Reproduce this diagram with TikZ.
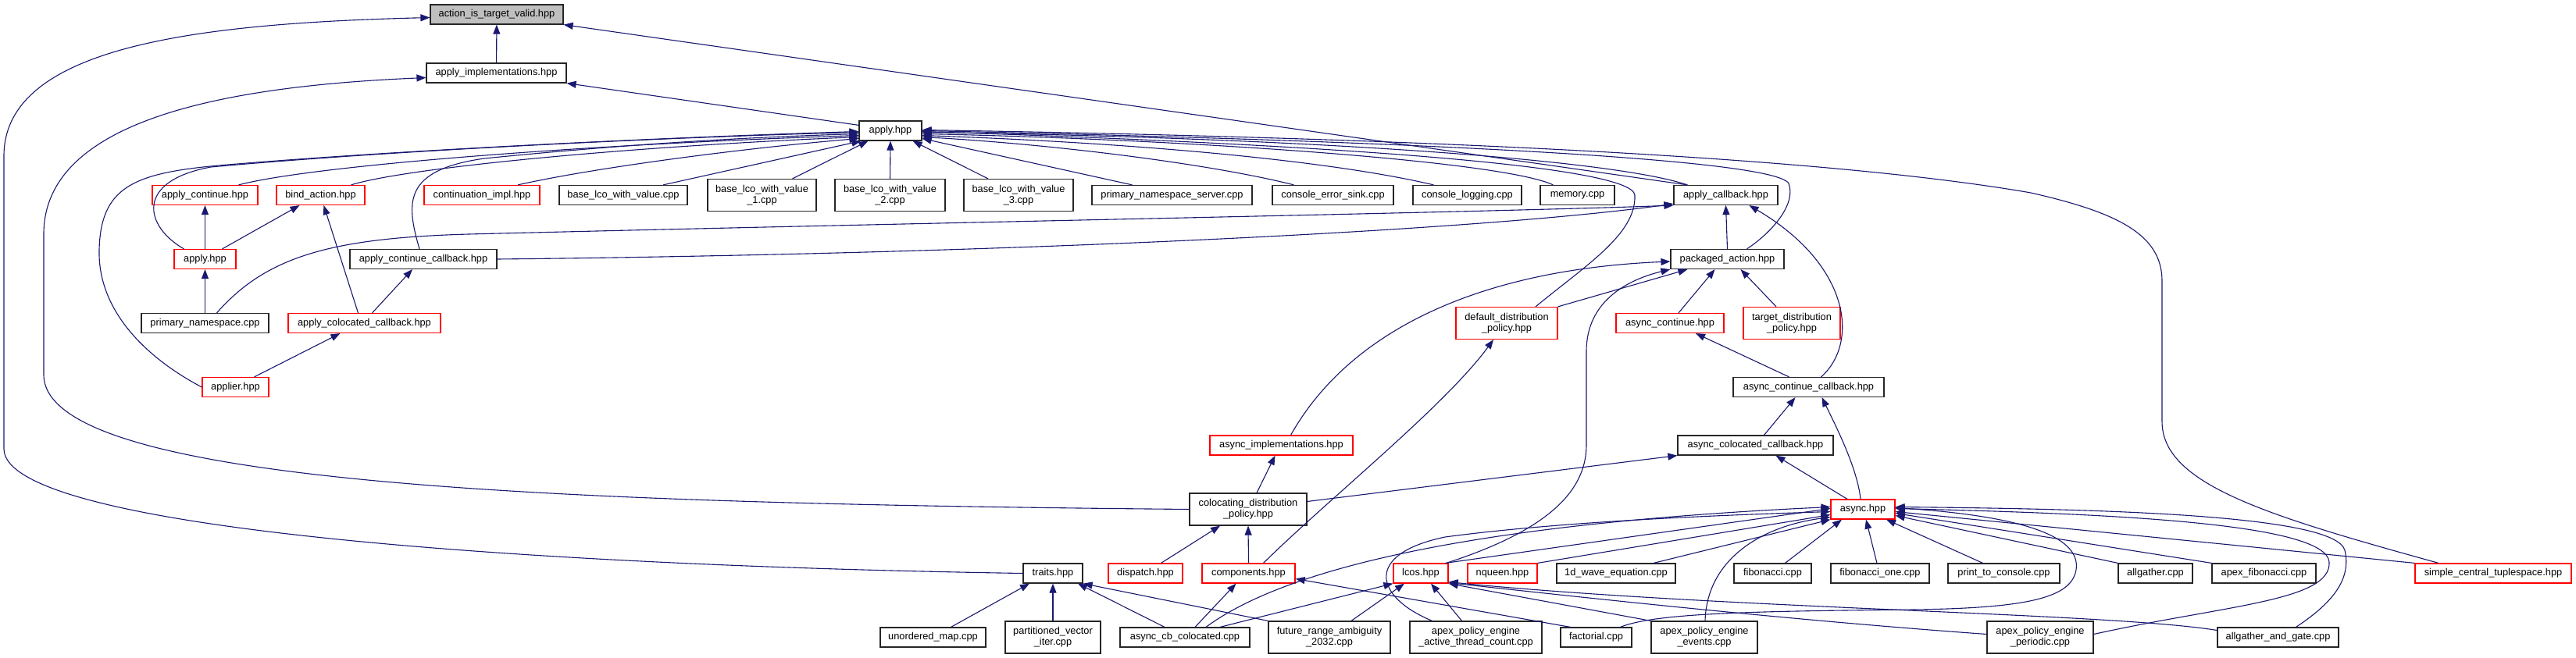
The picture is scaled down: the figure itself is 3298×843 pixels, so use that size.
\documentclass[tikz,border=0pt]{standalone}
\usepackage{fontspec}
\setmainfont{Liberation Sans}
\usetikzlibrary{arrows.meta}
\definecolor{edgec}{HTML}{191970}
\definecolor{boxred}{HTML}{FF0000}
\definecolor{boxgray}{HTML}{BFBFBF}
\tikzset{
  nb/.style={draw=black!85, line width=1.2pt, fill=white, inner xsep=9pt, inner ysep=0pt,
    minimum height=25pt, font=\fontsize{12.8}{14}\selectfont, align=center},
  nr/.style={nb, draw=boxred},
  two/.style={minimum height=41pt},
  w/.style={minimum width=#1pt},
  e/.style={draw=edgec, line width=1.1pt, -{Triangle[length=12pt,width=9pt]}},
}
\begin{document}
\begin{tikzpicture}[x=1pt,y=-1pt]
\fill[white] (0,0) rectangle (3298,843);
\useasboundingbox (0,0) rectangle (3298,843);
% nodes
\node[nb,w=170,fill=boxgray] (aitv) at (636,18.5) {action\_is\_target\_valid.hpp};
\node[nb,w=179] (aimpl) at (635.5,93.5) {apply\_implementations.hpp};
\node[nb,w=80] (applyh) at (1140,167.5) {apply.hpp};
\node[nr,w=135] (acont) at (262.5,250) {apply\_continue.hpp};
\node[nr,w=113] (bind) at (410.5,250) {bind\_action.hpp};
\node[nr,w=148] (contimpl) at (617,250) {continuation\_impl.hpp};
\node[nb,w=164] (blv) at (798,250) {base\_lco\_with\_value.cpp};
\node[nb,w=139,two] (blv1) at (975.5,250) {base\_lco\_with\_value\\\_1.cpp};
\node[nb,w=141,two] (blv2) at (1139.5,250) {base\_lco\_with\_value\\\_2.cpp};
\node[nb,w=140,two] (blv3) at (1304,250) {base\_lco\_with\_value\\\_3.cpp};
\node[nb,w=205] (pns) at (1500.5,250) {primary\_namespace\_server.cpp};
\node[nb,w=155] (ces) at (1706.5,250) {console\_error\_sink.cpp};
\node[nb,w=139] (clog) at (1878.5,250) {console\_logging.cpp};
\node[nb,w=95] (mem) at (2019.5,250) {memory.cpp};
\node[nb,w=133] (acb) at (2209.5,250) {apply\_callback.hpp};
\node[nr,w=79] (applyr) at (262.5,332) {apply.hpp};
\node[nb,w=188] (accb) at (542,332) {apply\_continue\_callback.hpp};
\node[nb,w=145] (pkg) at (2211.5,332) {packaged\_action.hpp};
\node[nb,w=163] (pn) at (262.5,414) {primary\_namespace.cpp};
\node[nr,w=195] (acolcb) at (466.5,414) {apply\_colocated\_callback.hpp};
\node[nr,w=130,two] (ddp) at (1929,414) {default\_distribution\\\_policy.hpp};
\node[nr,w=138] (acont2) at (2138,414) {async\_continue.hpp};
\node[nr,w=124,two] (tdp) at (2294,414) {target\_distribution\\\_policy.hpp};
\node[nr,w=85] (applier) at (301.5,496) {applier.hpp};
\node[nb,w=193] (asccb) at (2315.5,496) {async\_continue\_callback.hpp};
\node[nr,w=183] (aimpl2) at (1640.5,570.5) {async\_implementations.hpp};
\node[nb,w=199] (ascolcb) at (2247.5,570.5) {async\_colocated\_callback.hpp};
\node[nb,w=150,two] (cdp) at (1598,652.5) {colocating\_distribution\\\_policy.hpp};
\node[nr,w=82] (async) at (2385,652.5) {async.hpp};
\node[nb,w=76] (traits) at (1348,734.5) {traits.hpp};
\node[nr,w=95] (dispatch) at (1466.5,734.5) {dispatch.hpp};
\node[nr,w=119] (comps) at (1598.5,734.5) {components.hpp};
\node[nr,w=70] (lcos) at (1819,734.5) {lcos.hpp};
\node[nr,w=89] (nqueen) at (1923.5,734.5) {nqueen.hpp};
\node[nb,w=152] (wave) at (2069,734.5) {1d\_wave\_equation.cpp};
\node[nb,w=99] (fib) at (2269.5,734.5) {fibonacci.cpp};
\node[nb,w=126] (fib1) at (2407,734.5) {fibonacci\_one.cpp};
\node[nb,w=143] (ptc) at (2565.5,734.5) {print\_to\_console.cpp};
\node[nb,w=95] (allg) at (2759.5,734.5) {allgather.cpp};
\node[nb,w=133] (apexfib) at (2898.5,734.5) {apex\_fibonacci.cpp};
\node[nr,w=200] (sct) at (3192,734.5) {simple\_central\_tuplespace.hpp};
\node[nb,w=135] (umap) at (1194.5,816.5) {unordered\_map.cpp};
\node[nb,w=122,two] (pvi) at (1348,816.5) {partitioned\_vector\\\_iter.cpp};
\node[nb,w=166] (acbc) at (1517,816.5) {async\_cb\_colocated.cpp};
\node[nb,w=156,two] (fra) at (1702,816.5) {future\_range\_ambiguity\\\_2032.cpp};
\node[nb,w=169,two] (apeatc) at (1889.5,816.5) {apex\_policy\_engine\\\_active\_thread\_count.cpp};
\node[nb,w=91] (fact) at (2043.5,816.5) {factorial.cpp};
\node[nb,w=136,two] (apee) at (2182,816.5) {apex\_policy\_engine\\\_events.cpp};
\node[nb,w=136,two] (apep) at (2612,816.5) {apex\_policy\_engine\\\_periodic.cpp};
\node[nb,w=155] (aag) at (2916.5,816.5) {allgather\_and\_gate.cpp};
% top edges
\draw[e] (aimpl) -- (aitv);
\draw[e] (traits.west) .. controls (700,725) and (5,680) .. (5,575) -- (5,200) .. controls (5,60) and (250,30) .. ([yshift=-4pt]aitv.west);
\draw[e] (cdp.west) .. controls (700,645) and (56,620) .. (56,480) -- (56,300) .. controls (56,150) and (300,110) .. ([yshift=-6pt]aimpl.west);
\draw[e] ([xshift=18pt]acb.north west) -- (aitv.south east);
\draw[e] ([yshift=-6pt]applyh.north west) -- (aimpl.south east);
% into apply.hpp from left
\draw[e] (applier.west) .. controls (190,460) and (125,400) .. (127,320) .. controls (129,240) and (170,222) .. (280,212) .. controls (500,193) and (850,176) .. ([yshift=-1pt]applyh.west);
\draw[e] ([xshift=-27pt]applyr.north) .. controls (185,290) and (172,232) .. (270,214) .. controls (500,193) and (850,176) .. ([yshift=-2pt]applyh.west);
\draw[e] ([xshift=-5pt]accb.north) .. controls (520,260) and (515,218) .. (620,203) .. controls (800,185) and (950,176) .. ([yshift=-4pt]applyh.west);
\draw[e] ([xshift=43pt]acont.north) .. controls (400,212) and (750,185) .. ([yshift=-6pt]applyh.west);
\draw[e] ([xshift=39pt]bind.north) .. controls (520,215) and (800,188) .. ([yshift=-8pt]applyh.west);
\draw[e] ([xshift=46pt]contimpl.north) .. controls (760,215) and (950,190) .. ([yshift=-10pt]applyh.west);
\draw[e] ([xshift=51pt]blv.north) -- ([xshift=3pt]applyh.south west);
\draw[e] ([xshift=39pt]blv1.north) -- ([xshift=12pt]applyh.south west);
\draw[e] (blv2.north) -- (applyh.south);
\draw[e] ([xshift=-39pt]blv3.north) -- ([xshift=-12pt]applyh.south east);
% into apply.hpp from right
\draw[e] ([xshift=-51pt]pns.north) -- ([yshift=-10pt]applyh.east);
\draw[e] ([xshift=-50pt]ces.north) .. controls (1550,210) and (1350,185) .. ([yshift=-8pt]applyh.east);
\draw[e] ([xshift=-43pt]clog.north) .. controls (1700,205) and (1450,183) .. ([yshift=-6pt]applyh.east);
\draw[e] ([xshift=-31pt]mem.north) .. controls (1920,205) and (1500,178) .. ([yshift=-4pt]applyh.east);
\draw[e] ([xshift=18pt]acb.north west) .. controls (2050,200) and (1600,175) .. ([yshift=-2pt]applyh.east);
\draw[e] ([xshift=37pt]ddp.north) .. controls (2030,340) and (2095,300) .. (2093,250) .. controls (2090,212) and (1700,185) .. ([yshift=-1pt]applyh.east);
\draw[e] ([xshift=25pt]pkg.north) .. controls (2268,298) and (2300,262) .. (2290,235) .. controls (2270,200) and (1700,178) .. (applyh.east);
\draw[e] ([xshift=-70pt]sct.north) .. controls (2900,660) and (2768,620) .. (2768,540) -- (2768,360) .. controls (2768,300) and (2710,272) .. (2600,247) .. controls (2300,195) and (1700,175) .. ([yshift=1pt]applyh.east);
% apply lower region
\draw[e] (applyr.north) -- (acont.south);
\draw[e] ([xshift=22pt]applyr.north) -- ([xshift=-27pt]bind.south);
\draw[e] ([xshift=-8pt]acolcb.north) -- ([xshift=4pt]bind.south);
\draw[e] (pn.north) -- (applyr.south);
\draw[e] ([xshift=10pt]acolcb.north) -- ([xshift=-14pt]accb.south);
\draw[e] ([xshift=24pt]applier.north) -- ([xshift=-31pt]acolcb.south);
\draw[e] ([xshift=15pt]pn.north) .. controls (340,330) and (420,305) .. (600,300) .. controls (1200,285) and (1900,272) .. (acb.south west);
\draw[e] (accb.east) .. controls (1300,325) and (1900,295) .. ([yshift=2pt]acb.south west);
\draw[e] (pkg.north) -- (acb.south);
\draw[e] ([xshift=16pt]asccb.north) .. controls (2380,440) and (2370,340) .. ([xshift=30pt]acb.south);
% packaged_action
\draw[e] ([xshift=12pt]aimpl2.north) .. controls (1730,420) and (1900,345) .. ([yshift=-3pt]pkg.west);
\draw[e] (ddp.north east) -- ([xshift=22pt]pkg.south west);
\draw[e] ([xshift=-3pt]lcos.north east) .. controls (1980,680) and (2031,630) .. (2031,570) -- (2031,450) .. controls (2031,385) and (2085,358) .. (pkg.south west);
\draw[e] ([xshift=11pt]acont2.north) -- ([xshift=-16pt]pkg.south);
\draw[e] ([xshift=-20pt]tdp.north) -- ([xshift=17pt]pkg.south);
\draw[e] ([xshift=-25pt]asccb.north) -- ([xshift=33pt]acont2.south);
\draw[e] ([xshift=11pt]ascolcb.north) -- ([xshift=-17pt]asccb.south);
\draw[e] ([xshift=-3pt]async.north) .. controls (2378,600) and (2350,545) .. ([xshift=17pt]asccb.south);
\draw[e] ([xshift=-20pt]async.north) -- ([xshift=26pt]ascolcb.south);
\draw[e] ([yshift=10pt]cdp.east) -- (ascolcb.south west);
\draw[e] ([xshift=19pt]comps.north) .. controls (1700,640) and (1850,520) .. ([xshift=-17pt]ddp.south);
\draw[e] ([xshift=11pt]cdp.north) -- ([xshift=-8pt]aimpl2.south);
\draw[e] ([xshift=20pt]dispatch.north) -- ([xshift=-36pt]cdp.south);
\draw[e] (comps.north) -- (cdp.south);
% traits, components, lcos
\draw[e] ([xshift=23pt]umap.north) -- ([xshift=-30pt]traits.south);
\draw[e] (pvi.north) -- (traits.south);
\draw[e] ([xshift=-26pt]acbc.north) -- ([xshift=32pt]traits.south);
\draw[e] (fra.north west) -- (traits.south east);
\draw[e] ([xshift=13pt]acbc.north) -- ([xshift=-16pt]comps.south);
\draw[e] ([xshift=-33pt]fact.north) -- ([yshift=-7pt]comps.east);
\draw[e] ([xshift=45pt]acbc.north) -- (lcos.south west);
\draw[e] ([xshift=28pt]fra.north) -- ([xshift=-21pt]lcos.south);
\draw[e] ([xshift=-18pt]apeatc.north) -- ([xshift=13pt]lcos.south);
\draw[e] (apee.north west) -- (lcos.south east);
\draw[e] ([yshift=4pt]apep.west) .. controls (2300,795) and (2050,768) .. ([yshift=1pt]lcos.south east);
\draw[e] ([yshift=9pt]aag.west) .. controls (2700,785) and (2200,780) .. ([yshift=2pt]lcos.south east);
% async
\draw[e] ([xshift=-4pt]lcos.north east) -- ([yshift=1pt]async.west);
\draw[e] (nqueen.north east) -- ([yshift=-7pt]async.west);
\draw[e] ([xshift=48pt]wave.north) -- (async.south west);
\draw[e] ([xshift=16pt]fib.north) -- ([xshift=-27pt]async.south);
\draw[e] ([xshift=-4pt]fib1.north) -- ([xshift=4pt]async.south);
\draw[e] ([xshift=-27pt]ptc.north) -- ([xshift=30pt]async.south);
\draw[e] (allg.north west) -- ([yshift=-8pt]async.east);
\draw[e] (apexfib.north west) -- ([yshift=-5pt]async.east);
\draw[e] (sct.north west) -- ([yshift=-3pt]async.east);
\draw[e] ([xshift=27pt]acbc.north) .. controls (1650,725) and (1900,670) .. ([yshift=3pt]async.west);
\draw[e] ([xshift=-56pt]apeatc.north) .. controls (1760,765) and (1745,710) .. (1850,688) .. controls (2000,668) and (2200,660) .. ([yshift=-3pt]async.west);
\draw[e] ([xshift=1pt]apee.north) .. controls (2185,720) and (2250,675) .. ([yshift=-10pt]async.west);
\draw[e] ([xshift=31pt]fact.north) .. controls (2120,785) and (2250,783) .. (2450,781) .. controls (2600,779) and (2652,765) .. (2658,730) .. controls (2664,690) and (2600,662) .. ([yshift=2pt]async.east);
\draw[e] ([yshift=4pt]apep.east) .. controls (2850,775) and (2985,770) .. (2982,720) .. controls (2978,670) and (2700,658) .. ([yshift=1pt]async.east);
\draw[e] ([xshift=23pt]aag.north) .. controls (2990,770) and (3010,740) .. (3002,705) .. controls (2990,660) and (2700,652) .. ([yshift=3pt]async.east);
\end{tikzpicture}
\end{document}
